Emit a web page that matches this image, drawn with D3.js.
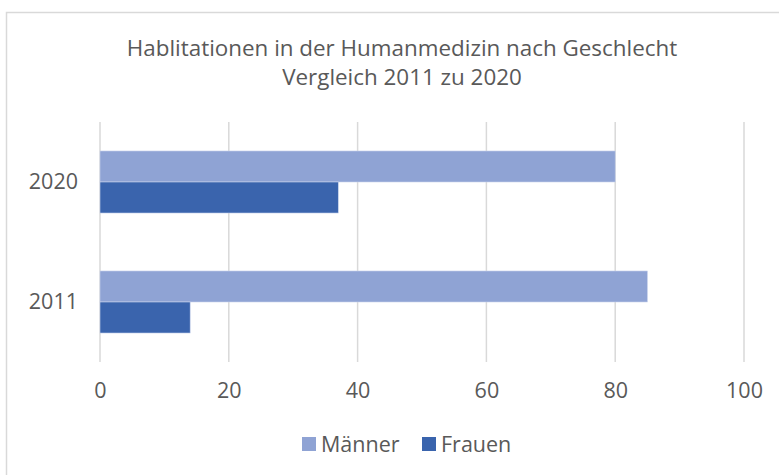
<!DOCTYPE html>
<html>
<head>
<meta charset="utf-8">
<script src="https://cdn.jsdelivr.net/npm/d3@7"></script>
<style>
  body { margin: 0; background: #fff; }
  svg text { font-family: "Open Sans", "Noto Sans", sans-serif; fill: #595959; }
</style>
</head>
<body>
<svg id="chart" width="779" height="475"></svg>
<script>
const years = ["2020", "2011"];
const seriesNames = ["Männer", "Frauen"];
const maenner = [80, 85];
const frauen = [37, 14];
const xTicks = [0, 20, 40, 60, 80, 100];
const titleLines = ["Hablitationen in der Humanmedizin nach Geschlecht", "Vergleich 2011 zu 2020"];

const colors = { "Männer": "#8fa3d4", "Frauen": "#3a64ad" };
const fontSize = "21.5px";

const rows = years.map((y, i) => ({ year: y, "Männer": maenner[i], "Frauen": frauen[i] }));

const svg = d3.select("#chart");

// chart frame
svg.append("rect")
  .attr("x", 6.5).attr("y", 12.5)
  .attr("width", 800).attr("height", 500)
  .attr("fill", "#fff")
  .attr("stroke", "#d9d9d9")
  .attr("stroke-width", 1.5);

const x = d3.scaleLinear().domain([0, 100]).range([100, 744]);
const y = d3.scaleBand().domain(years).range([122, 362])
  .paddingInner(0.483).paddingOuter(0.2415);
const ySub = d3.scaleBand().domain(seriesNames).range([0, y.bandwidth()]);

// gridlines
svg.append("g")
  .selectAll("line")
  .data(xTicks)
  .join("line")
  .attr("x1", (d) => x(d)).attr("x2", (d) => x(d))
  .attr("y1", 122).attr("y2", 362)
  .attr("stroke", "#d9d9d9")
  .attr("stroke-width", 1.5);

// bars
const groups = svg.append("g")
  .selectAll("g")
  .data(rows)
  .join("g")
  .attr("transform", (d) => `translate(0, ${y(d.year)})`);

groups.selectAll("rect")
  .data((d) => seriesNames.map((s) => ({ key: s, value: d[s] })))
  .join("rect")
  .attr("x", x(0))
  .attr("y", (d) => ySub(d.key))
  .attr("width", (d) => x(d.value) - x(0))
  .attr("height", ySub.bandwidth())
  .attr("fill", (d) => colors[d.key])
  .attr("stroke", "#c9d3ec")
  .attr("stroke-width", 0.6);

// x axis labels
const xAxis = svg.append("g")
  .attr("transform", "translate(0, 362)")
  .call(d3.axisBottom(x).tickValues(xTicks).tickSize(0).tickPadding(21));
xAxis.select(".domain").remove();
xAxis.selectAll("text")
  .style("font-size", fontSize)
  .style("font-family", "'Open Sans', sans-serif")
  .attr("fill", "#595959");

// y axis labels
const yAxis = svg.append("g")
  .attr("transform", "translate(100, 0)")
  .call(d3.axisLeft(y).tickSize(0).tickPadding(22));
yAxis.select(".domain").remove();
yAxis.selectAll("text")
  .style("font-size", fontSize)
  .style("font-family", "'Open Sans', sans-serif")
  .attr("fill", "#595959");

// title
svg.append("g")
  .selectAll("text")
  .data(titleLines)
  .join("text")
  .attr("x", 402)
  .attr("y", (d, i) => 56 + i * 29)
  .attr("text-anchor", "middle")
  .style("font-size", "22.4px")
  .text((d) => d);

// legend
const legendItems = [
  { key: "Männer", x: 302 },
  { key: "Frauen", x: 422 }
];
const legend = svg.append("g").attr("transform", "translate(0, 444)");
legend.selectAll("rect")
  .data(legendItems)
  .join("rect")
  .attr("x", (d) => d.x)
  .attr("y", -7)
  .attr("width", 14)
  .attr("height", 14)
  .attr("fill", (d) => colors[d.key]);
legend.selectAll("text")
  .data(legendItems)
  .join("text")
  .attr("x", (d) => d.x + 19)
  .attr("y", 7.5)
  .style("font-size", fontSize)
  .text((d) => d.key);
</script>
</body>
</html>
